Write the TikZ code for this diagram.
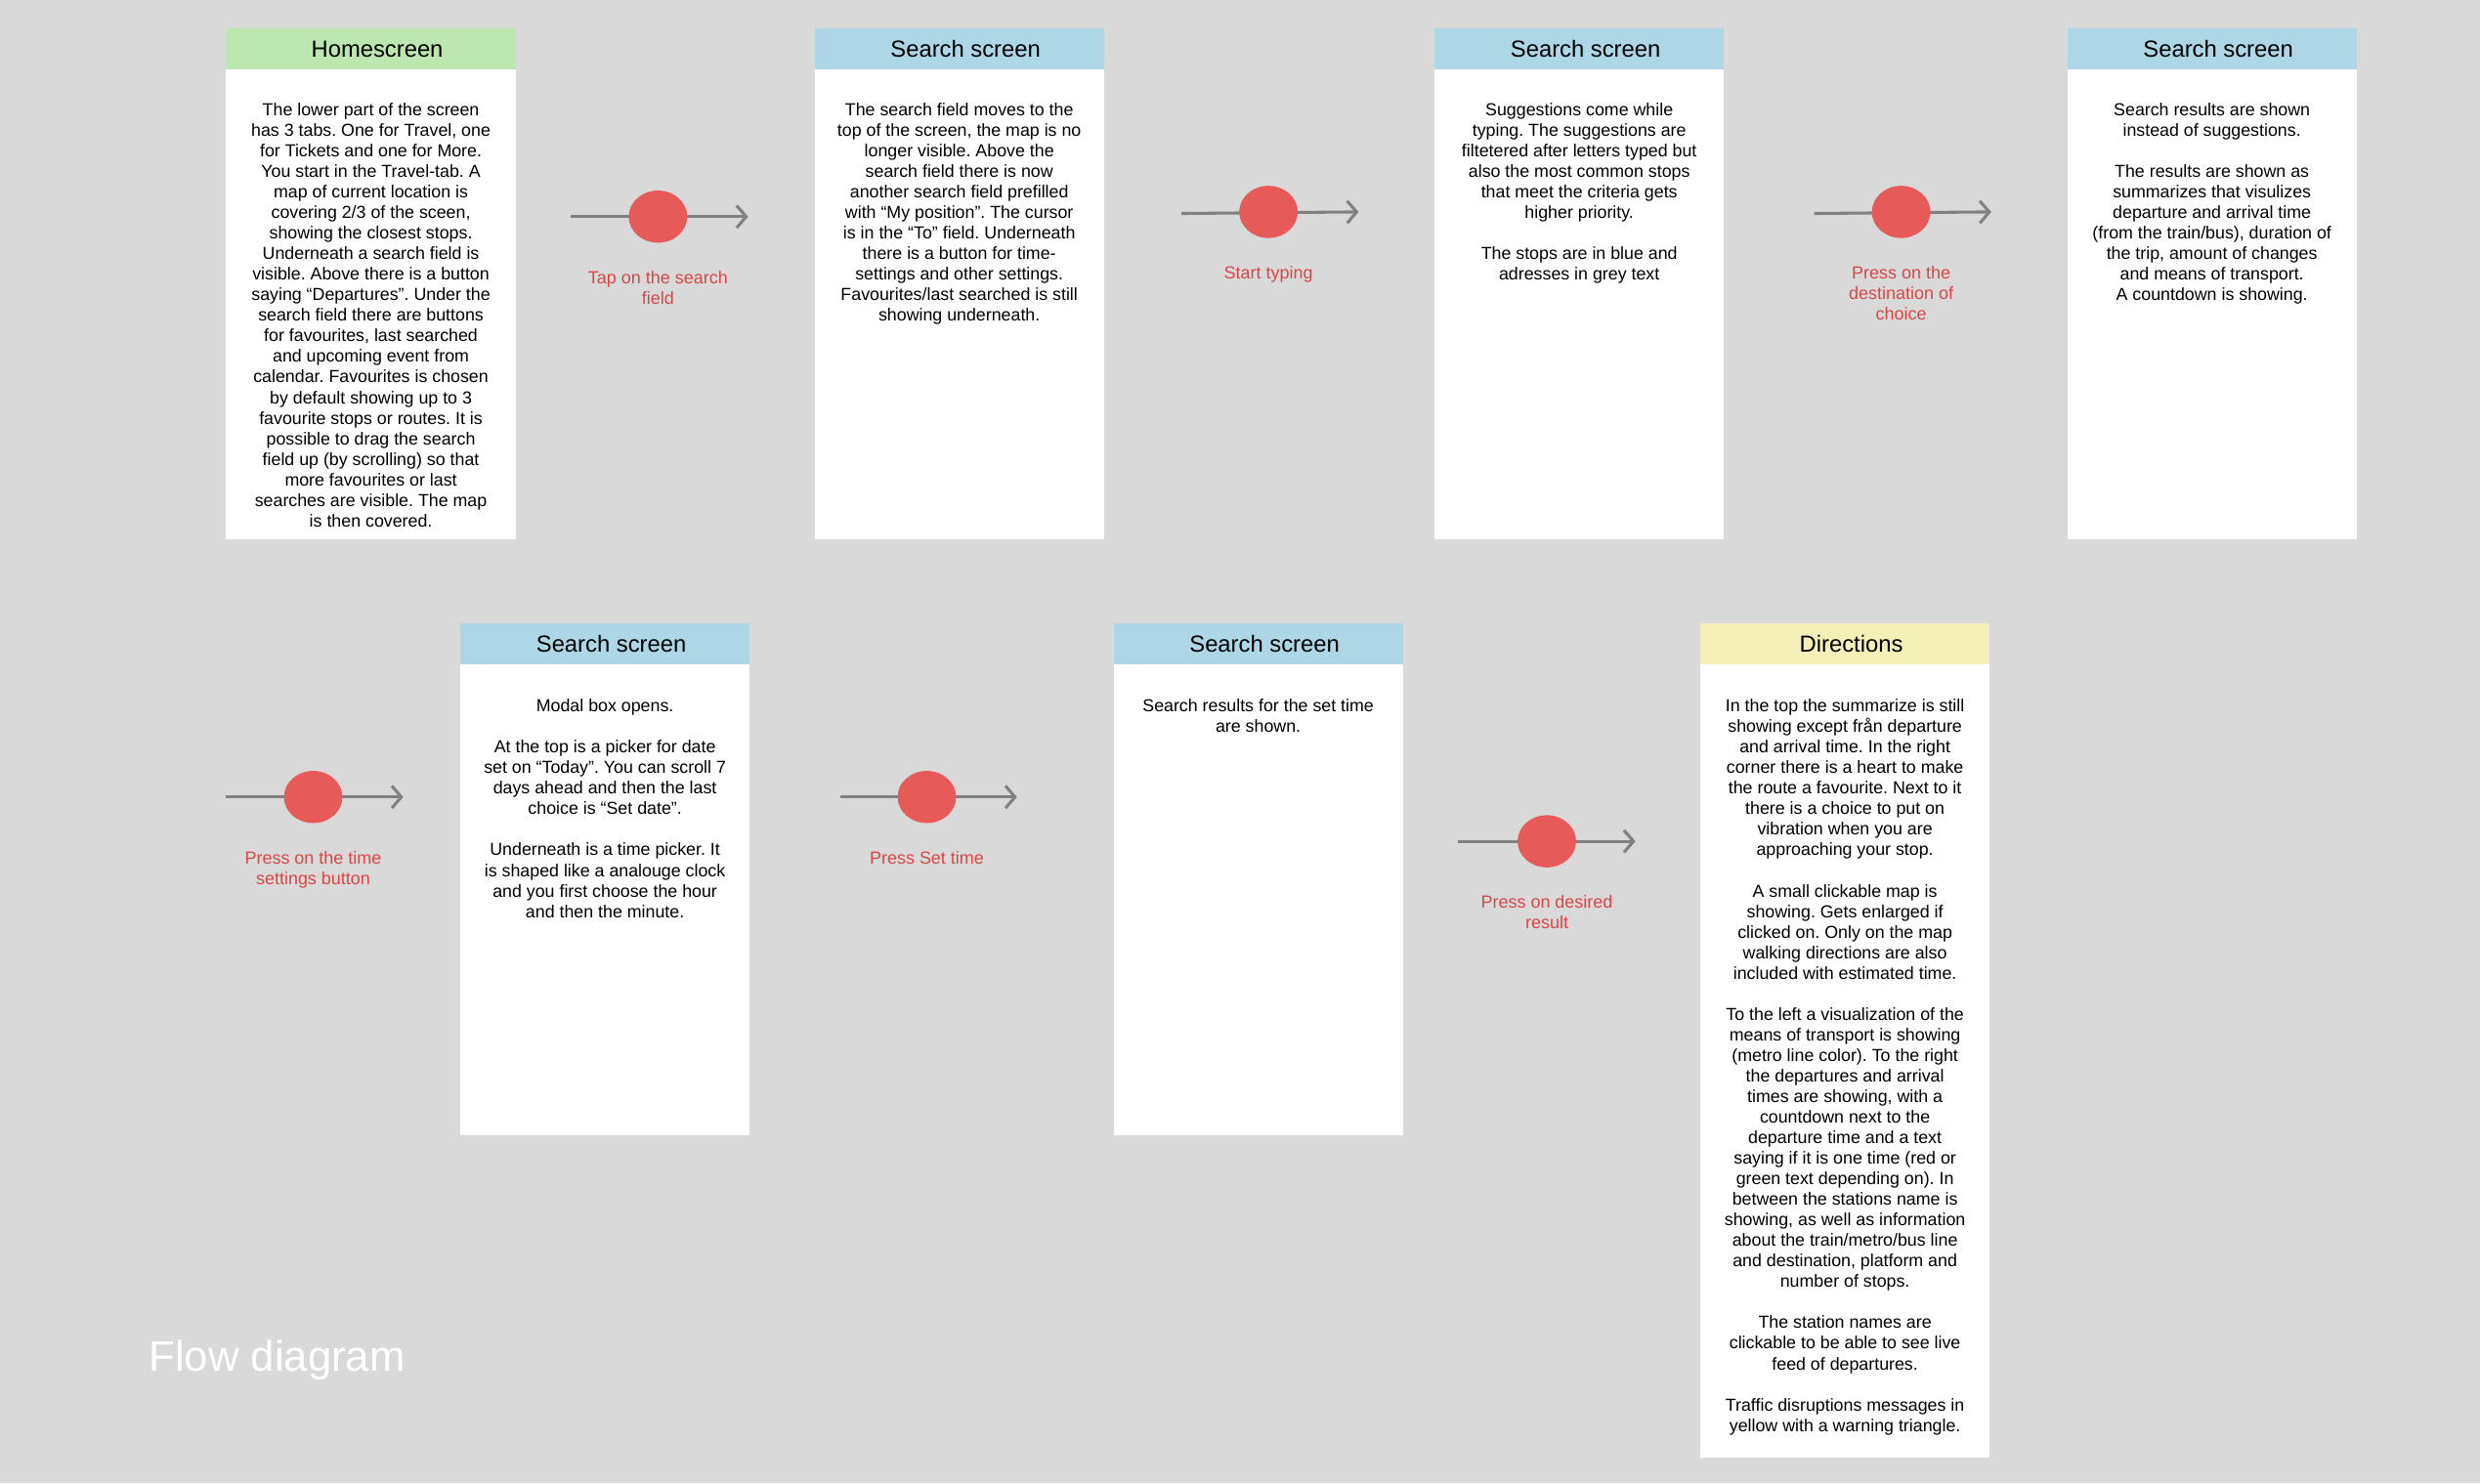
\documentclass[tikz,border=0pt]{standalone}
\usepackage{fontspec}
\setmainfont{Liberation Sans}
\usepackage{xcolor}
\usetikzlibrary{positioning,arrows.meta,shapes.geometric}
\frenchspacing

\definecolor{canvas}{HTML}{D9D9D9}
\definecolor{homegreen}{HTML}{BDE7B0}
\definecolor{searchblue}{HTML}{ADD6E7}
\definecolor{dirsyellow}{HTML}{F4F0B8}
\definecolor{dotred}{HTML}{E65A5A}
\definecolor{labelred}{HTML}{D94646}
\definecolor{arrowgrey}{HTML}{808080}

\begin{document}
\begin{tikzpicture}[x=1pt,y=-1pt,
    screenhead/.style={minimum width=183pt, minimum height=26pt, inner sep=0pt, outer sep=0pt, font=\fontsize{14.7}{17}\selectfont, execute at begin node=\hspace*{8pt}},
    screenbody/.style={fill=white, minimum width=183pt, inner sep=0pt, outer sep=0pt},
    screentext/.style={anchor=north, inner sep=0pt, align=center, font=\fontsize{11}{13}\selectfont},
    tapdot/.style={ellipse, fill=dotred, minimum width=37pt, minimum height=33pt, inner sep=0pt},
    taplabel/.style={below=17.5pt of #1, inner sep=0pt, align=center, text=labelred, font=\fontsize{11.1}{13}\selectfont},
    flowarrow/.style={draw=arrowgrey, line width=1.9pt, -{Straight Barb[length=6pt,width=14pt]}}
]
    \fill[canvas] (0,0) rectangle (1568,938);

    % first row
    \node[screenhead, fill=homegreen] (homehead) at (234.5,31) {Homescreen};
    \node[screenbody, minimum height=297pt, below=0pt of homehead] (home) {};
    \node[screentext] (hometext) at ([yshift=-21pt]home.north) {The lower part of the screen\\
        has 3 tabs. One for Travel, one\\ for Tickets and one for More.\\
        You start in the Travel-tab. A\\ map of current location is\\
        covering 2/3 of the sceen,\\ showing the closest stops.\\
        Underneath a search field is\\ visible. Above there is a button\\
        saying “Departures”. Under the\\ search field there are buttons\\
        for favourites, last searched\\ and upcoming event from\\
        calendar. Favourites is chosen\\ by default showing up to 3\\
        favourite stops or routes. It is\\ possible to drag the search\\
        field up (by scrolling) so that\\ more favourites or last\\
        searches are visible. The map\\ is then covered.};

    \node[screenhead, fill=searchblue] (fieldhead) at (606.5,31) {Search screen};
    \node[screenbody, minimum height=297pt, below=0pt of fieldhead] (field) {};
    \node[screentext] (fieldtext) at ([yshift=-21pt]field.north) {The search field moves to the\\
        top of the screen, the map is no\\ longer visible. Above the\\
        search field there is now\\ another search field prefilled\\
        with “My position”. The cursor\\ is in the “To” field. Underneath\\
        there is a button for time-\\ settings and other settings.\\
        Favourites/last searched is still\\ showing underneath.};

    \node[screenhead, fill=searchblue] (suggesthead) at (998.5,31) {Search screen};
    \node[screenbody, minimum height=297pt, below=0pt of suggesthead] (suggest) {};
    \node[screentext] (suggesttext) at ([yshift=-21pt]suggest.north) {Suggestions come while\\
        typing. The suggestions are\\ filtetered after letters typed but\\
        also the most common stops\\ that meet the criteria gets\\
        higher priority.\\[13pt]
        The stops are in blue and\\ adresses in grey text};

    \node[screenhead, fill=searchblue] (resulthead) at (1398.5,31) {Search screen};
    \node[screenbody, minimum height=297pt, below=0pt of resulthead] (result) {};
    \node[screentext] (resulttext) at ([yshift=-21pt]result.north) {Search results are shown\\
        instead of suggestions.\\[13pt]
        The results are shown as\\ summarizes that visulizes\\
        departure and arrival time\\ (from the train/bus), duration of\\
        the trip, amount of changes\\ and means of transport.\\
        A countdown is showing.};

    % second row
    \node[screenhead, fill=searchblue] (modalhead) at (382.5,407) {Search screen};
    \node[screenbody, minimum height=298pt, below=0pt of modalhead] (modal) {};
    \node[screentext] (modaltext) at ([yshift=-22pt]modal.north) {Modal box opens.\\[13pt]
        At the top is a picker for date\\ set on “Today”. You can scroll 7\\
        days ahead and then the last\\ choice is “Set date”.\\[13pt]
        Underneath is a time picker. It\\ is shaped like a analouge clock\\
        and you first choose the hour\\ and then the minute.};

    \node[screenhead, fill=searchblue] (timedhead) at (795.5,407) {Search screen};
    \node[screenbody, minimum height=298pt, below=0pt of timedhead] (timed) {};
    \node[screentext] (timedtext) at ([yshift=-22pt]timed.north) {Search results for the set time\\
        are shown.};

    \node[screenhead, fill=dirsyellow] (dirshead) at (1166.5,407) {Directions};
    \node[screenbody, minimum height=502pt, below=0pt of dirshead] (dirs) {};
    \node[screentext] (dirstext) at ([yshift=-22pt]dirs.north) {In the top the summarize is still\\
        showing except från departure\\ and arrival time. In the right\\
        corner there is a heart to make\\ the route a favourite. Next to it\\
        there is a choice to put on\\ vibration when you are\\
        approaching your stop.\\[13pt]
        A small clickable map is\\ showing. Gets enlarged if\\
        clicked on. Only on the map\\ walking directions are also\\
        included with estimated time.\\[13pt]
        To the left a visualization of the\\ means of transport is showing\\
        (metro line color). To the right\\ the departures and arrival\\
        times are showing, with a\\ countdown next to the\\
        departure time and a text\\ saying if it is one time (red or\\
        green text depending on). In\\ between the stations name is\\
        showing, as well as information\\ about the train/metro/bus line\\
        and destination, platform and\\ number of stops.\\[13pt]
        The station names are\\ clickable to be able to see live\\
        feed of departures.\\[13pt]
        Traffic disruptions messages in\\ yellow with a warning triangle.};

    % tap steps
    \coordinate (t1in) at (361,137);  \coordinate (t1out) at (473,137);
    \coordinate (t2in) at (747,135);  \coordinate (t2out) at (859,134);
    \coordinate (t3in) at (1147,135); \coordinate (t3out) at (1259,134);
    \coordinate (t4in) at (143,504);  \coordinate (t4out) at (255,504);
    \coordinate (t5in) at (531,504);  \coordinate (t5out) at (643,504);
    \coordinate (t6in) at (922,532);  \coordinate (t6out) at (1034,532);
    \foreach \i in {1,...,6}
        \draw[flowarrow] (t\i in) -- (t\i out);

    \node[tapdot] (t1) at (416,137) {};
    \node[tapdot] (t2) at (802,134) {};
    \node[tapdot] (t3) at (1202,134) {};
    \node[tapdot] (t4) at (198,504) {};
    \node[tapdot] (t5) at (586,504) {};
    \node[tapdot] (t6) at (978,532) {};

    \node[taplabel=t1] (t1text) {Tap on the search\\ field};
    \node[taplabel=t2] (t2text) {Start typing};
    \node[taplabel=t3] (t3text) {Press on the\\ destination of\\ choice};
    \node[taplabel=t4] (t4text) {Press on the time\\ settings button};
    \node[taplabel=t5] (t5text) {Press Set time};
    \node[taplabel=t6] (t6text) {Press on desired\\ result};

    \node[anchor=base west, inner sep=0pt, text=white, font=\fontsize{27}{32}\selectfont] (title) at (94,867) {Flow diagram};
\end{tikzpicture}
\end{document}
